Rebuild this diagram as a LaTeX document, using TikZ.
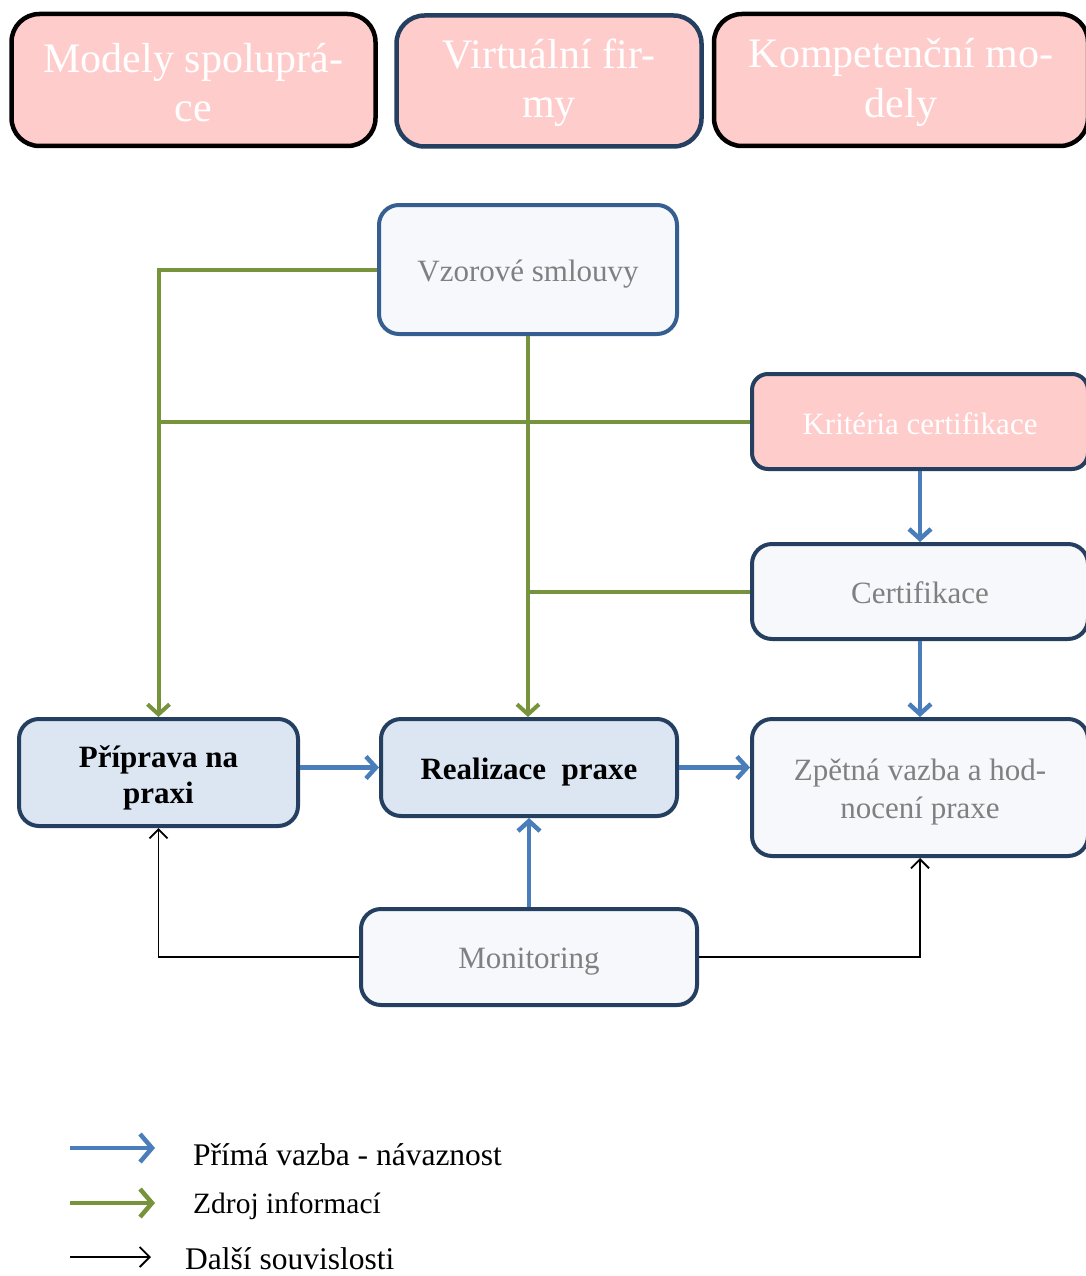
\documentclass[tikz,border=0pt]{standalone}
\usepackage{fontspec}
\setmainfont{Liberation Serif}
\usetikzlibrary{arrows.meta}
\definecolor{pinkfill}{RGB}{255,204,204}
\definecolor{lightfill}{RGB}{247,248,252}
\definecolor{bluefill}{RGB}{220,230,242}
\definecolor{navy}{RGB}{36,63,96}
\definecolor{midblue}{RGB}{54,95,145}
\definecolor{greenline}{RGB}{119,147,60}
\definecolor{blueline}{RGB}{74,126,187}
\definecolor{graytext}{RGB}{128,128,128}
\tikzset{
  box/.style={rectangle, rounded corners=20pt, line width=4pt, draw=navy, fill=lightfill, inner sep=0pt},
  topbox/.style={box, rounded corners=28pt, line width=4.5pt, fill=pinkfill},
  pinkbox/.style={box, fill=pinkfill, rounded corners=16pt},
  mainbox/.style={box, fill=bluefill},
  graytxt/.style={text=graytext, align=center, inner sep=0pt, font=\fontsize{31}{38}\selectfont},
  whitetxt/.style={text=white, align=center, inner sep=0pt, font=\fontsize{31}{38}\selectfont},
  toptxt/.style={text=white, align=center, inner sep=0pt, font=\fontsize{42}{49.5}\selectfont},
  boldtxt/.style={text=black, align=center, inner sep=0pt, font=\fontsize{31}{36}\selectfont\bfseries},
  greenarrow/.style={draw=greenline, line width=4pt},
  bluearrow/.style={draw=blueline, line width=4.5pt},
  blackarrow/.style={draw=black, line width=1.8pt},
  bluetip/.style={-{Straight Barb[length=10pt,width=22pt]}},
  blacktip/.style={-{Straight Barb[length=9pt,width=18pt]}},
  legendtext/.style={anchor=west, inner sep=0pt}
}
\begin{document}
\begin{tikzpicture}[x=1pt, y=-1pt]
\useasboundingbox (0,0) rectangle (1086,1276);
\clip (0,0) rectangle (1086,1276);
\fill[white] (0,0) rectangle (1086,1276);

% top boxes
\node[topbox, draw=black, minimum width=364pt, minimum height=132pt] (m1) at (193.5,80) {};
\node[topbox, draw=navy, minimum width=305pt, minimum height=131pt] (m2) at (549,81) {};
\node[topbox, draw=black, minimum width=374pt, minimum height=132pt] (m3) at (901,80) {};
\node[toptxt] (m1t) at ([yshift=-2.5pt]m1.center) {Modely spoluprá-\\ce};
\node[toptxt] (m2t) at ([yshift=-1.5pt]m2.center) {Virtuální fir-\\my};
\node[toptxt] (m3t) at ([yshift=-2.5pt]m3.center) {Kompetenční mo-\\dely};

% main diagram boxes
\node[box, draw=midblue, minimum width=298pt, minimum height=129pt] (vz) at (528,269.5) {};
\node[pinkbox, minimum width=336pt, minimum height=95pt] (kr) at (920,421.5) {};
\node[box, minimum width=336pt, minimum height=95pt] (ce) at (920,591.5) {};
\node[mainbox, minimum width=279pt, minimum height=107pt] (pr) at (158.5,772.5) {};
\node[mainbox, minimum width=296pt, minimum height=97pt] (re) at (529,767.5) {};
\node[box, minimum width=336pt, minimum height=137pt] (zp) at (920,787.5) {};
\node[box, minimum width=336pt, minimum height=96pt] (mo) at (529,957) {};

\node[graytxt] (vzt) at ([yshift=-5pt]vz.center) {Vzorové smlouvy};
\node[whitetxt] (krt) at ([yshift=-2pt]kr.center) {Kritéria certifikace};
\node[graytxt] (cet) at ([yshift=-1pt]ce.center) {Certifikace};
\node[boldtxt] (prt) at ([yshift=-5pt]pr.center) {Příprava na\\praxi};
\node[boldtxt] (ret) at ([yshift=-5pt]re.center) {Realizace\ \ praxe};
\node[graytxt] (zpt) at ([yshift=-5pt]zp.center) {Zpětná vazba a hod-\\nocení praxe};
\node[graytxt] (mot) at ([yshift=-5pt]mo.center) {Monitoring};

% green connectors
\draw[greenarrow, bluetip] (vz.west) -| (pr.north);
\draw[greenarrow, bluetip] (vz.south) -- (vz.south |- re.north);
\draw[greenarrow] (kr.west) -- (kr.west -| pr.north);
\draw[greenarrow] (ce.west) -- (ce.west -| vz.south);

% blue connectors
\draw[bluearrow, bluetip] (kr.south) -- (ce.north);
\draw[bluearrow, bluetip] (ce.south) -- (zp.north);
\draw[bluearrow, bluetip] (pr.east |- re.west) -- (re.west);
\draw[bluearrow, bluetip] (re.east) -- (re.east -| zp.west);
\draw[bluearrow, bluetip] (mo.north) -- (re.south);

% black connectors
\draw[blackarrow, blacktip] (mo.west) -| (pr.south);
\draw[blackarrow, blacktip] (mo.east) -| (zp.south);

% legend
\coordinate (l1a) at (70,1148);
\coordinate (l1b) at (155,1148);
\coordinate (l2a) at (70,1203);
\coordinate (l2b) at (155,1203);
\coordinate (l3a) at (70,1257);
\coordinate (l3b) at (151,1257);
\draw[bluearrow, -{Straight Barb[length=12pt,width=28pt]}] (l1a) -- (l1b);
\draw[greenarrow, line width=4.5pt, -{Straight Barb[length=12pt,width=28pt]}] (l2a) -- (l2b);
\draw[blackarrow, -{Straight Barb[length=10pt,width=20pt]}] (l3a) -- (l3b);
\node[legendtext, font=\fontsize{31.5}{36}\selectfont] (t1) at (193,1155) {Přímá vazba - návaznost};
\node[legendtext, font=\fontsize{29.5}{36}\selectfont] (t2) at (193,1206) {Zdroj informací};
\node[legendtext, font=\fontsize{31.5}{36}\selectfont] (t3) at (185,1259) {Další souvislosti};
\end{tikzpicture}
\end{document}
